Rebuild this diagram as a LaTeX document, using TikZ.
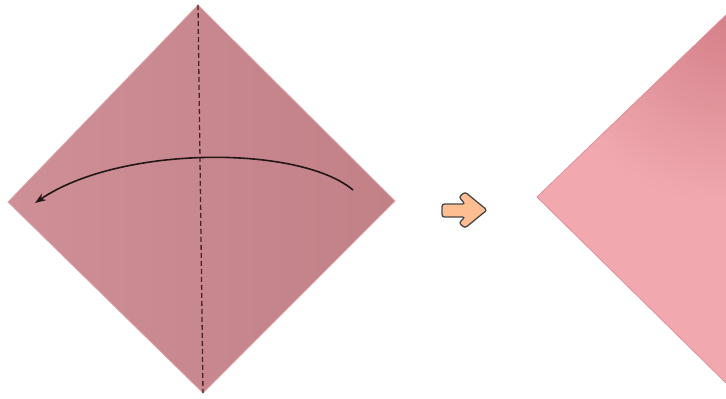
\documentclass[tikz,border=0pt]{standalone}
\usetikzlibrary{arrows.meta,shadings}
\definecolor{paperA}{RGB}{206,143,150}
\definecolor{paperAdark}{RGB}{194,128,135}
\definecolor{paperAedge}{RGB}{220,165,168}
\definecolor{paperB}{RGB}{241,169,175}
\definecolor{paperBdark}{RGB}{212,128,137}
\definecolor{foldline}{RGB}{70,35,38}
\definecolor{curvearrow}{RGB}{35,22,22}
\definecolor{peach}{RGB}{255,190,145}
\definecolor{arrowedge}{RGB}{70,70,70}
\tikzset{
  paper/.style={draw=paperAedge, line width=0.8pt, line join=miter},
  valley/.style={draw=foldline, line width=1.3pt, dash pattern=on 5pt off 3pt},
  movearrow/.style={draw=curvearrow, line width=1.6pt, -{Stealth[length=11pt,width=8pt]}},
  steparrow/.style={fill=peach, draw=arrowedge, line width=1.3pt, rounded corners=2.5pt},
}
\begin{document}
\begin{tikzpicture}[x=1pt,y=-1pt]
\useasboundingbox (0,0) rectangle (726,399);
% left diamond
\coordinate (T) at (198,5);
\coordinate (R) at (395,201);
\coordinate (B) at (203,393);
\coordinate (L) at (8,202);
\shade[upper right=paperAdark, upper left=paperA, lower left=paperA, lower right=paperAdark] (T) -- (R) -- (B) -- (L) -- cycle;
\draw[paper] (T) -- (R) -- (B) -- (L) -- cycle;
% fold line
\draw[valley] (T) -- (B);
% curved arrow
\coordinate (as) at (353,190);
\coordinate (ae) at (35,203);
\draw[movearrow] (as) .. controls (300,145) and (120,145) .. (ae);
% step arrow
\coordinate (s1) at (442,204);
\filldraw[steparrow] (s1) -- (465,204) -- (459,197) -- (465,192) -- (487,210) -- (465,228) -- (459,223) -- (465,217) -- (442,217) -- cycle;
% right shape (partial)
\coordinate (RL) at (537,197);
\coordinate (RT) at (726,15);
\coordinate (RB) at (726,383);
\fill[paperB] (RL) -- (RT) -- (RB) -- cycle;
\begin{scope}
\clip (RL) -- (RT) -- (RB) -- cycle;
\shade[inner color=paperBdark, outer color=paperB] (726,15) circle (190pt);
\end{scope}
\draw[paperBdark!60!paperB, line width=0.8pt] (RT) -- (RL) -- (RB);
\end{tikzpicture}
\end{document}
